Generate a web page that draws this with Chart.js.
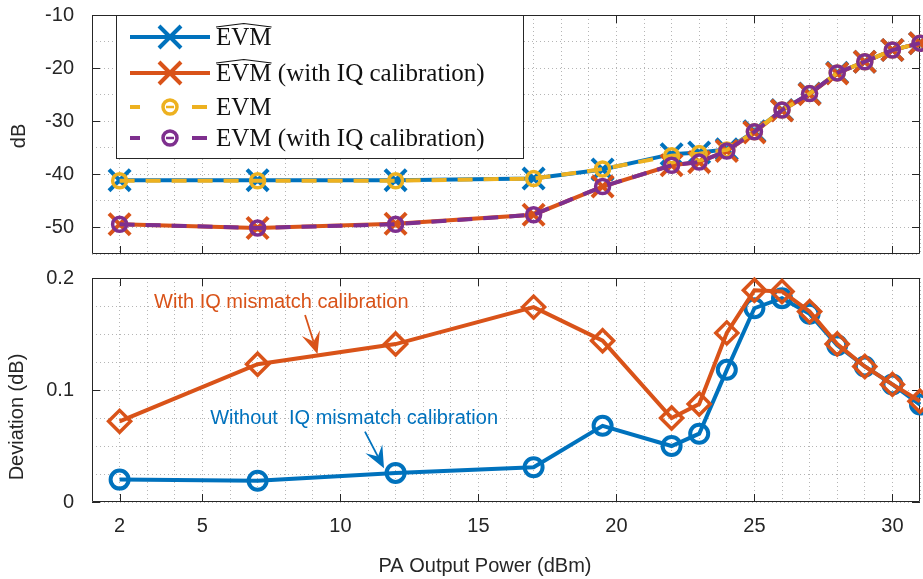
<!DOCTYPE html>
<html>
<head>
<meta charset="utf-8">
<script src="https://cdn.jsdelivr.net/npm/chart.js@4.4.1/dist/chart.umd.min.js"></script>
<style>
	html, body { margin: 0; padding: 0; background: #fff; }
	#figure { position: relative; width: 923px; height: 579px; overflow: hidden; }
	canvas { position: absolute; left: 0; }
	#evmChart { top: 0; }
	#deviationChart { top: 266px; }
</style>
</head>
<body>
<div id="figure">
	<canvas id="evmChart" width="923" height="266"></canvas>
	<canvas id="deviationChart" width="923" height="313"></canvas>
</div>
<script>
"use strict";

// PA output power sweep (dBm)
const powerDbm = [2, 7, 12, 17, 19.5, 22, 23, 24, 25, 26, 27, 28, 29, 30, 31];

// estimated and measured EVM (dB), without / with IQ calibration
const evmEstimate = [-41.1, -41.1, -41.1, -40.8, -39.1, -36.2, -35.9, -35.3, -31.9, -27.9, -24.8, -20.9, -18.8, -16.6, -15.3];
const evmEstimateIq = [-49.4, -50.1, -49.3, -47.6, -42.3, -38.3, -37.7, -35.6, -32.1, -28.0, -24.9, -21.0, -18.8, -16.6, -15.3];
const evmMeasured = [-41.2, -41.2, -41.2, -40.8, -39.0, -36.5, -36.1, -35.4, -32.0, -27.9, -24.8, -20.9, -18.8, -16.6, -15.3];
const evmMeasuredIq = [-49.4, -50.1, -49.4, -47.6, -42.3, -38.3, -37.7, -35.6, -32.0, -27.9, -24.8, -20.9, -18.8, -16.6, -15.3];

// deviation between estimate and measurement (dB)
const deviationNoCal = [0.020, 0.019, 0.026, 0.031, 0.068, 0.050, 0.061, 0.118, 0.173, 0.182, 0.168, 0.140, 0.121, 0.105, 0.087];
const deviationCal = [0.072, 0.123, 0.141, 0.174, 0.144, 0.075, 0.0875, 0.151, 0.189, 0.188, 0.170, 0.141, 0.121, 0.105, 0.090];

const xMajorTicks = [2, 5, 10, 15, 20, 25, 30];
const evmMajorTicks = [-10, -20, -30, -40, -50];
const deviationMajorTicks = [0, 0.1, 0.2];

const legendLabels = ["EVM", "EVM (with IQ calibration)", "EVM", "EVM (with IQ calibration)"];
const noteLabels = ["With IQ mismatch calibration", "Without  IQ mismatch calibration"];

const colors = {
	blue: "#0072BD",
	orange: "#D95319",
	yellow: "#EDB120",
	purple: "#7E2F8E"
};
const axisColor = "#262626";
const gridColor = "rgba(120, 120, 120, 0.55)";
const sansFamily = "'Liberation Sans', Arial, Helvetica, sans-serif";
const serifFamily = "'Liberation Serif', 'Times New Roman', serif";
const tickLength = 8;

const toPoints = values => values.map((value, index) => ({x: powerDbm[index], y: value}));

// axes box with inward major ticks, drawn under the data
const framePlugin = {
	id: "frame",
	beforeDatasetsDraw: chart => {
		const {ctx, chartArea: area} = chart;
		const xScale = chart.scales.x;
		const yScale = chart.scales.y;
		const yMajor = chart.options.plugins.frame.yMajor;
		ctx.save();
		ctx.strokeStyle = axisColor;
		ctx.lineWidth = 1;
		ctx.beginPath();
		ctx.rect(area.left + 0.5, area.top + 0.5, area.right - area.left - 1, area.bottom - area.top - 1);
		for (let value of xMajorTicks) {
			let px = Math.round(xScale.getPixelForValue(value)) + 0.5;
			ctx.moveTo(px, area.bottom);
			ctx.lineTo(px, area.bottom - tickLength);
			ctx.moveTo(px, area.top);
			ctx.lineTo(px, area.top + tickLength);
		}
		for (let value of yMajor) {
			let py = Math.round(yScale.getPixelForValue(value)) + 0.5;
			ctx.moveTo(area.left, py);
			ctx.lineTo(area.left + tickLength, py);
			ctx.moveTo(area.right, py);
			ctx.lineTo(area.right - tickLength, py);
		}
		ctx.stroke();
		ctx.restore();
	}
};

// axis titles placed by hand
const titlePlugin = {
	id: "titles",
	afterDraw: chart => {
		const {ctx} = chart;
		const titles = chart.options.plugins.titles;
		ctx.save();
		ctx.fillStyle = axisColor;
		ctx.font = "20px " + sansFamily;
		ctx.textAlign = "center";
		ctx.textBaseline = "middle";
		if (titles.y) {
			ctx.save();
			ctx.translate(titles.y.x, titles.y.y);
			ctx.rotate(-Math.PI / 2);
			ctx.fillText(titles.y.text, 0, 0);
			ctx.restore();
		}
		if (titles.x) {
			ctx.textBaseline = "alphabetic";
			ctx.fillText(titles.x.text, titles.x.x, titles.x.y);
		}
		ctx.restore();
	}
};

const drawCross = (ctx, x, y, half, color) => {
	ctx.strokeStyle = color;
	ctx.lineWidth = 4;
	ctx.beginPath();
	ctx.moveTo(x - half, y - half);
	ctx.lineTo(x + half, y + half);
	ctx.moveTo(x - half, y + half);
	ctx.lineTo(x + half, y - half);
	ctx.stroke();
};

const drawRing = (ctx, x, y, radius, color) => {
	ctx.strokeStyle = color;
	ctx.lineWidth = 3.5;
	ctx.beginPath();
	ctx.arc(x, y, radius, 0, Math.PI * 2);
	ctx.stroke();
	ctx.lineWidth = 2.5;
	ctx.beginPath();
	ctx.moveTo(x - 4, y);
	ctx.lineTo(x + 4, y);
	ctx.stroke();
};

// legend box in the upper left of the EVM axes
const legendPlugin = {
	id: "evmLegend",
	afterDraw: chart => {
		const {ctx} = chart;
		const rows = [
			{color: colors.blue, dashed: false, hat: true, y: 37},
			{color: colors.orange, dashed: false, hat: true, y: 73},
			{color: colors.yellow, dashed: true, hat: false, y: 107},
			{color: colors.purple, dashed: true, hat: false, y: 138}
		];
		ctx.save();
		ctx.fillStyle = "#fff";
		ctx.fillRect(116, 15, 407, 143);
		ctx.strokeStyle = axisColor;
		ctx.lineWidth = 1;
		ctx.strokeRect(116.5, 15.5, 407, 143);
		ctx.font = "25px " + serifFamily;
		ctx.textBaseline = "alphabetic";
		ctx.textAlign = "left";
		const hatWidth = ctx.measureText("EVM").width;
		rows.forEach((row, index) => {
			ctx.strokeStyle = row.color;
			ctx.lineWidth = 4;
			ctx.beginPath();
			if (row.dashed) {
				ctx.moveTo(130, row.y);
				ctx.lineTo(140, row.y);
				ctx.moveTo(192, row.y);
				ctx.lineTo(207, row.y);
			} else {
				ctx.moveTo(130, row.y);
				ctx.lineTo(210, row.y);
			}
			ctx.stroke();
			if (row.dashed) {
				drawRing(ctx, 170, row.y, 7, row.color);
			} else {
				drawCross(ctx, 170, row.y, 11, row.color);
			}
			let baseline = row.y + 8;
			ctx.fillStyle = "#111";
			ctx.fillText(legendLabels[index], 216, baseline);
			if (row.hat) {
				ctx.strokeStyle = "#111";
				ctx.lineWidth = 1.2;
				ctx.beginPath();
				ctx.moveTo(216, baseline - 18);
				ctx.lineTo(216 + hatWidth / 2, baseline - 21.5);
				ctx.lineTo(216 + hatWidth, baseline - 18);
				ctx.stroke();
			}
		});
		ctx.restore();
	}
};

// text callouts with arrows, anchored in data coordinates
const notes = [
	{text: noteLabels[0], color: colors.orange, textX: 3.25, textY: 0.1735, from: [8.72, 0.167], to: [9.17, 0.1321]},
	{text: noteLabels[1], color: colors.blue, textX: 5.28, textY: 0.0696, from: [10.89, 0.0628], to: [11.58, 0.0301]}
];

const drawArrow = (ctx, x1, y1, x2, y2, color) => {
	let length = Math.hypot(x2 - x1, y2 - y1);
	let ux = (x2 - x1) / length;
	let uy = (y2 - y1) / length;
	let nx = -uy;
	let ny = ux;
	let headLength = 22;
	let headHalf = 9.5;
	let notchX = x2 - ux * headLength * 0.6;
	let notchY = y2 - uy * headLength * 0.6;
	ctx.strokeStyle = color;
	ctx.fillStyle = color;
	ctx.lineWidth = 1.8;
	ctx.beginPath();
	ctx.moveTo(x1, y1);
	ctx.lineTo(notchX, notchY);
	ctx.stroke();
	ctx.beginPath();
	ctx.moveTo(x2, y2);
	ctx.lineTo(x2 - ux * headLength + nx * headHalf, y2 - uy * headLength + ny * headHalf);
	ctx.lineTo(notchX, notchY);
	ctx.lineTo(x2 - ux * headLength - nx * headHalf, y2 - uy * headLength - ny * headHalf);
	ctx.closePath();
	ctx.fill();
};

const notesPlugin = {
	id: "notes",
	afterDraw: chart => {
		const {ctx} = chart;
		const xScale = chart.scales.x;
		const yScale = chart.scales.y;
		ctx.save();
		ctx.font = "20px " + sansFamily;
		ctx.textAlign = "left";
		ctx.textBaseline = "alphabetic";
		for (let note of notes) {
			ctx.fillStyle = note.color;
			ctx.fillText(note.text, xScale.getPixelForValue(note.textX), yScale.getPixelForValue(note.textY));
			drawArrow(ctx,
				xScale.getPixelForValue(note.from[0]), yScale.getPixelForValue(note.from[1]),
				xScale.getPixelForValue(note.to[0]), yScale.getPixelForValue(note.to[1]),
				note.color);
		}
		ctx.restore();
	}
};

// the label paddings would otherwise push the plot area inward
const buildXScale = (showLabels, height) => ({
	type: "linear",
	min: 1,
	max: 31,
	afterFit: scale => {
		scale.height = height;
		scale.paddingLeft = 0;
		scale.paddingRight = 0;
	},
	ticks: {
		stepSize: 1,
		autoSkip: false,
		maxRotation: 0,
		display: showLabels,
		padding: 12,
		color: axisColor,
		font: {family: sansFamily, size: 20},
		callback: value => xMajorTicks.includes(value) ? String(value) : ""
	},
	grid: {color: gridColor, lineWidth: 1, drawTicks: false},
	border: {display: false, dash: [1, 3]}
});

const buildYScale = (min, max, step, labelFor) => ({
	type: "linear",
	min: min,
	max: max,
	afterFit: scale => {
		scale.width = 92;
		scale.paddingTop = 0;
		scale.paddingBottom = 0;
	},
	ticks: {
		stepSize: step,
		autoSkip: false,
		padding: 18,
		color: axisColor,
		font: {family: sansFamily, size: 20},
		callback: labelFor
	},
	grid: {color: gridColor, lineWidth: 1, drawTicks: false},
	border: {display: false, dash: [1, 3]}
});

const lineDataset = (label, values, color, extra) => Object.assign({
	label: label,
	data: toPoints(values),
	borderColor: color,
	backgroundColor: "transparent",
	pointBorderColor: color,
	pointBackgroundColor: "transparent",
	borderWidth: 4,
	tension: 0,
	clip: false
}, extra);

const buildEvmChart = () => {
	let canvas = document.querySelector("canvas#evmChart");
	new Chart(canvas, {
		type: "line",
		data: {
			datasets: [
				lineDataset("EVM estimate", evmEstimate, colors.blue, {pointStyle: "crossRot", pointRadius: 15, pointBorderWidth: 4, order: 4}),
				lineDataset("EVM estimate (IQ cal)", evmEstimateIq, colors.orange, {pointStyle: "crossRot", pointRadius: 15, pointBorderWidth: 4, order: 3}),
				lineDataset("EVM", evmMeasured, colors.yellow, {borderDash: [15, 11], pointStyle: "circle", pointRadius: 7, pointBorderWidth: 3.5, order: 2}),
				lineDataset("EVM (IQ cal)", evmMeasuredIq, colors.purple, {borderDash: [15, 11], pointStyle: "circle", pointRadius: 7, pointBorderWidth: 3.5, order: 1})
			]
		},
		options: {
			responsive: false,
			animation: false,
			layout: {autoPadding: false, padding: {left: 0, right: 3, top: 15, bottom: 0}},
			scales: {
				x: buildXScale(false, 12),
				y: buildYScale(-55, -10, 5, value => value % 10 === 0 ? String(value) : "")
			},
			plugins: {
				legend: {display: false},
				tooltip: {enabled: false},
				frame: {yMajor: evmMajorTicks},
				titles: {y: {text: "dB", x: 19, y: 136}}
			}
		},
		plugins: [framePlugin, legendPlugin, titlePlugin]
	});
};

const buildDeviationChart = () => {
	let canvas = document.querySelector("canvas#deviationChart");
	new Chart(canvas, {
		type: "line",
		data: {
			datasets: [
				lineDataset("Without IQ mismatch calibration", deviationNoCal, colors.blue, {pointStyle: "circle", pointRadius: 9, pointBorderWidth: 4, order: 2}),
				lineDataset("With IQ mismatch calibration", deviationCal, colors.orange, {pointStyle: "rectRot", pointRadius: 11, pointBorderWidth: 3.5, order: 1})
			]
		},
		options: {
			responsive: false,
			animation: false,
			layout: {autoPadding: false, padding: {left: 0, right: 3, top: 12, bottom: 0}},
			scales: {
				x: buildXScale(true, 77),
				y: buildYScale(0, 0.2, 0.025, value => {
					if (Math.abs(value * 10 - Math.round(value * 10)) > 1e-6) return "";
					return value === 0 ? "0" : value.toFixed(1);
				})
			},
			plugins: {
				legend: {display: false},
				tooltip: {enabled: false},
				frame: {yMajor: deviationMajorTicks},
				titles: {
					y: {text: "Deviation (dB)", x: 17.5, y: 151},
					x: {text: "PA Output Power (dBm)", x: 485, y: 305.5}
				}
			}
		},
		plugins: [framePlugin, notesPlugin, titlePlugin]
	});
};

buildEvmChart();
buildDeviationChart();
</script>
</body>
</html>
